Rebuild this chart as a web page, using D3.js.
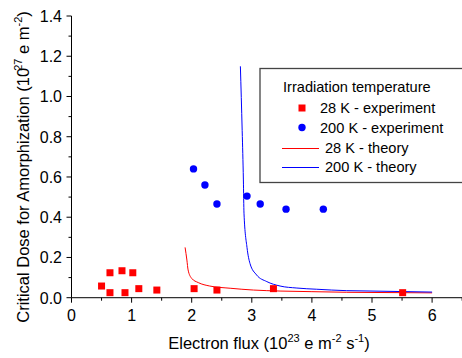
<!DOCTYPE html>
<html><head><meta charset="utf-8">
<script src="https://cdn.jsdelivr.net/npm/d3@7"></script>
<style>
html,body{margin:0;padding:0;background:#fff;}
svg{display:block;font-family:"Liberation Sans",Arial,sans-serif;}
</style></head>
<body><svg id="c" width="462" height="358"></svg>
<script>
// 28 K experiment
const exp28X = [0.50, 0.64, 0.64, 0.84, 0.89, 1.02, 1.12, 1.42, 2.04, 2.42, 3.36, 5.51];
const exp28Y = [0.058, 0.124, 0.025, 0.134, 0.025, 0.124, 0.045, 0.038, 0.045, 0.038, 0.045, 0.025];
// 200 K experiment
const exp200X = [2.03, 2.22, 2.42, 2.92, 3.14, 3.57, 4.19];
const exp200Y = [0.64, 0.56, 0.466, 0.505, 0.466, 0.44, 0.44];
// 28 K theory
const th28X = [1.89, 1.92, 1.94, 2.00, 2.11, 2.30, 2.64, 3.03, 3.47, 4.00, 4.58, 5.00, 6.00];
const th28Y = [0.25, 0.187, 0.138, 0.096, 0.075, 0.058, 0.047, 0.038, 0.033, 0.030, 0.027, 0.026, 0.024];
// 200 K theory
const th200X = [2.81, 2.84, 2.86, 2.87, 2.92, 2.97, 3.08, 3.25, 3.47, 3.75, 4.08, 4.58, 5.00, 6.00];
const th200Y = [1.15, 0.83, 0.585, 0.42, 0.25, 0.17, 0.113, 0.08, 0.058, 0.048, 0.042, 0.035, 0.033, 0.028];
// ticks
const xTicks = [0, 1, 2, 3, 4, 5, 6];
const yTicks = [0.0, 0.2, 0.4, 0.6, 0.8, 1.0, 1.2, 1.4];
const legendTitle = "Irradiation temperature";
const legendItems = ["28 K - experiment", "200 K - experiment", "28 K - theory", "200 K - theory"];

const svg = d3.select("#c");
const x = d3.scaleLinear().domain([0, 6.5]).range([71.5, 71.5 + 60.1 * 6.5]);
const y = d3.scaleLinear().domain([0, 1.4]).range([297.7, 16]);

// axes
const xMinor = d3.range(0, 6.51, 0.5);
const yMinor = d3.range(0, 1.401, 0.1);
const gx = svg.append("g").attr("transform", `translate(0,${y(0)})`);
gx.append("line").attr("x1", x(0)).attr("x2", 462).attr("stroke", "#333").attr("stroke-width", 1.2);
gx.selectAll("line.mn").data(xMinor).enter().append("line").attr("class","mn")
  .attr("x1", d => x(d)).attr("x2", d => x(d)).attr("y1", 0)
  .attr("y2", (d,i) => i % 2 === 0 ? 5 : 3).attr("stroke", "#000");
gx.selectAll("text").data(xTicks).enter().append("text")
  .attr("x", d => x(d)).attr("y", 23).attr("text-anchor", "middle")
  .attr("font-size", 16).text(d => d3.format("d")(d));

const gy = svg.append("g").attr("transform", `translate(${x(0)},0)`);
gy.append("line").attr("y1", y(0)).attr("y2", y(1.4)).attr("stroke", "#000");
gy.selectAll("line.mn").data(yMinor).enter().append("line").attr("class","mn")
  .attr("y1", d => y(d)).attr("y2", d => y(d)).attr("x1", 0)
  .attr("x2", (d,i) => i % 2 === 0 ? -5 : -3).attr("stroke", "#000");
gy.selectAll("text").data(yTicks).enter().append("text")
  .attr("x", -9.5).attr("y", d => y(d) + 5.8).attr("text-anchor", "end")
  .attr("font-size", 16).text(d => d3.format(".1f")(d));

// axis titles
const yl = svg.append("text").attr("transform", `translate(28.5,${167}) rotate(-90)`)
  .attr("text-anchor", "middle").attr("font-size", 16.5);
yl.append("tspan").text("Critical Dose for Amorphization (10");
yl.append("tspan").attr("dy", -7).attr("dx", -3).attr("font-size", 11).text("27");
yl.append("tspan").attr("dy", 7).text(" e m");
yl.append("tspan").attr("dy", -7).attr("font-size", 11).text("-2");
yl.append("tspan").attr("dy", 7).text(")");

const xl = svg.append("text").attr("x", 269).attr("y", 349)
  .attr("text-anchor", "middle").attr("font-size", 16.5);
xl.append("tspan").text("Electron flux (10");
xl.append("tspan").attr("dy", -7).attr("font-size", 11).text("23");
xl.append("tspan").attr("dy", 7).text(" e m");
xl.append("tspan").attr("dy", -7).attr("font-size", 11).text("-2");
xl.append("tspan").attr("dy", 7).text(" s");
xl.append("tspan").attr("dy", -7).attr("font-size", 11).text("-1");
xl.append("tspan").attr("dy", 7).text(")");

// theory lines
const line = d3.line().x(d => x(d[0])).y(d => y(d[1])).curve(d3.curveMonotoneX);
svg.append("path").datum(d3.zip(th28X, th28Y)).attr("d", line)
  .attr("fill", "none").attr("stroke", "#ff0000").attr("stroke-width", 1);
svg.append("path").datum(d3.zip(th200X, th200Y)).attr("d", line)
  .attr("fill", "none").attr("stroke", "#0000ff").attr("stroke-width", 1);

// points
svg.selectAll("rect.p28").data(d3.zip(exp28X, exp28Y)).enter().append("rect")
  .attr("x", d => x(d[0]) - 3.5).attr("y", d => y(d[1]) - 3.5)
  .attr("width", 7).attr("height", 7).attr("fill", "#ff0000");
svg.selectAll("circle.p200").data(d3.zip(exp200X, exp200Y)).enter().append("circle")
  .attr("cx", d => x(d[0])).attr("cy", d => y(d[1])).attr("r", 3.7).attr("fill", "#0000ff");

// legend
const lg = svg.append("g");
const lf = 14.6;
lg.append("rect").attr("x", 260).attr("y", 68.5).attr("width", 210).attr("height", 114)
  .attr("fill", "#fff").attr("stroke", "#444").attr("stroke-width", 1.3);
lg.append("text").attr("x", 283).attr("y", 92).attr("font-size", lf).text(legendTitle);
lg.append("rect").attr("x", 298.5).attr("y", 104.5).attr("width", 7).attr("height", 7).attr("fill", "#ff0000");
lg.append("text").attr("x", 320).attr("y", 113).attr("font-size", lf).text(legendItems[0]);
lg.append("circle").attr("cx", 302).attr("cy", 127.5).attr("r", 3.7).attr("fill", "#0000ff");
lg.append("text").attr("x", 320).attr("y", 133).attr("font-size", lf).text(legendItems[1]);
lg.append("line").attr("x1", 282).attr("x2", 319).attr("y1", 148.5).attr("y2", 148.5).attr("stroke", "#ff0000");
lg.append("text").attr("x", 325).attr("y", 153).attr("font-size", lf).text(legendItems[2]);
lg.append("line").attr("x1", 282).attr("x2", 319).attr("y1", 167.5).attr("y2", 167.5).attr("stroke", "#0000ff");
lg.append("text").attr("x", 325).attr("y", 172).attr("font-size", lf).text(legendItems[3]);
</script></body></html>
